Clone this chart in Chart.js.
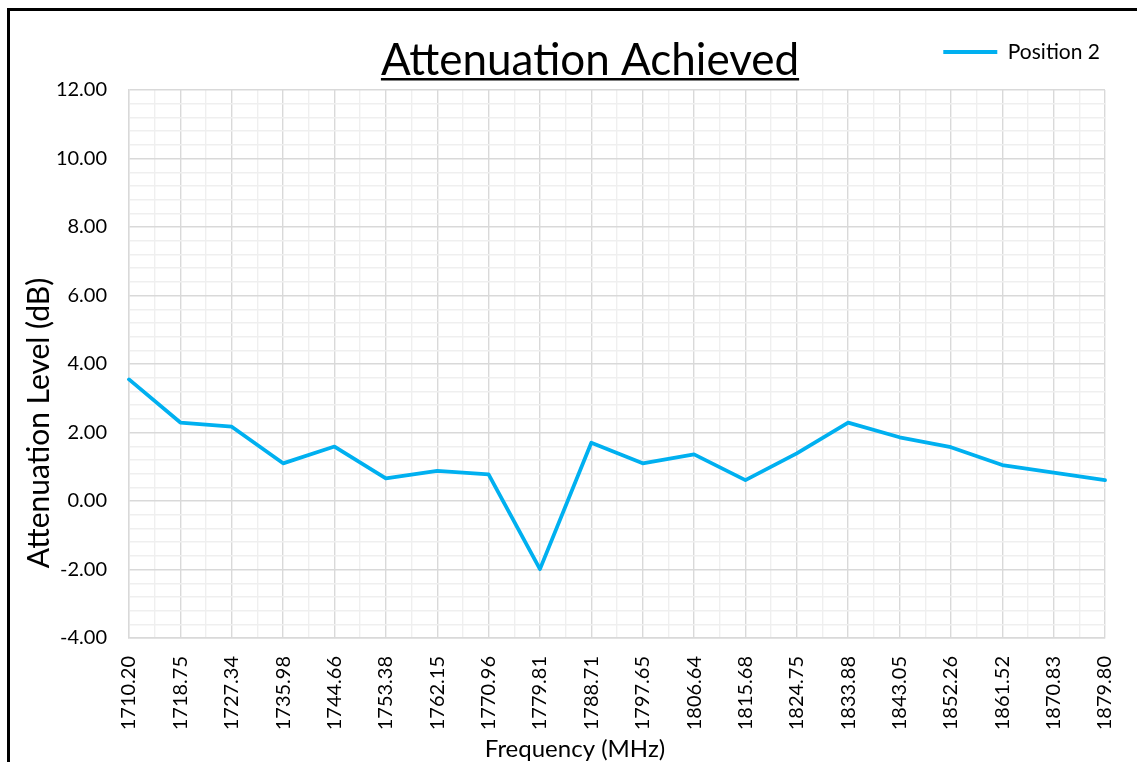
<!DOCTYPE html>
<html>
<head>
<meta charset="utf-8">
<script src="https://cdn.jsdelivr.net/npm/chart.js@4/dist/chart.umd.min.js"></script>
<style>
  html, body { margin: 0; padding: 0; background: #fff; overflow: hidden; }
  #wrap { position: relative; width: 1137px; height: 762px; }
  #frame { position: absolute; left: 7px; top: 8px; width: 1200px; height: 800px;
           border-left: 3px solid #000; border-top: 3px solid #000; pointer-events: none; }
</style>
</head>
<body>
<div id="wrap">
  <canvas id="c" width="1137" height="762"></canvas>
  <div id="frame"></div>
</div>
<script>
// data
var frequencies = ['1710.20', '1718.75', '1727.34', '1735.98', '1744.66', '1753.38', '1762.15',
  '1770.96', '1779.81', '1788.71', '1797.65', '1806.64', '1815.68', '1824.75', '1833.88',
  '1843.05', '1852.26', '1861.52', '1870.83', '1879.80'];
var position2 = [3.55, 2.29, 2.17, 1.10, 1.59, 0.66, 0.88, 0.78, -1.99, 1.70,
  1.10, 1.36, 0.61, 1.39, 2.29, 1.86, 1.57, 1.05, 0.83, 0.61];
var yMin = -4, yMax = 12, yMajorStep = 2, yMinorStep = 0.4;

var chartTitle = 'Attenuation Achieved';
var seriesName = 'Position 2';
var xTitle = 'Frequency (MHz)';
var yTitle = 'Attenuation Level (dB)';

var lineBlue = '#00b0f0';
var gridMajor = '#d9d9d9';
var gridMinor = '#efefef';

function isMajor(v) {
  return Math.abs(Math.round(v / yMajorStep) * yMajorStep - v) < 1e-6;
}

// chart title (underlined) and the two axis titles, placed like Excel does
var titles = {
  id: 'titles',
  afterDraw: function(chart) {
    var ctx = chart.ctx;
    ctx.save();
    ctx.fillStyle = '#000';
    ctx.textAlign = 'center';

    ctx.font = '44px Lato';
    ctx.textBaseline = 'alphabetic';
    ctx.fillText(chartTitle, 590, 75);
    var w = ctx.measureText(chartTitle).width;
    ctx.fillRect(590 - w / 2, 78, w, 2.5);

    ctx.textBaseline = 'middle';
    ctx.font = '24px Lato';
    ctx.fillText(xTitle, 575, 749);

    ctx.translate(39, 423);
    ctx.rotate(-Math.PI / 2);
    ctx.font = '30px Lato';
    ctx.fillText(yTitle, 0, 0);
    ctx.restore();
  }
};

// move the legend up so it sits beside the title
var legendRow = {
  id: 'legendRow',
  afterLayout: function(chart) {
    var lg = chart.legend;
    if (!lg) return;
    lg.top -= 17.5;
    lg.bottom -= 17.5;
  }
};

new Chart(document.getElementById('c'), {
  type: 'line',
  data: {
    labels: frequencies,
    datasets: [{
      label: seriesName,
      data: position2,
      xAxisID: 'x',
      borderColor: lineBlue,
      backgroundColor: lineBlue,
      borderWidth: 3.8,
      borderCapStyle: 'round',
      borderJoinStyle: 'round',
      pointRadius: 0,
      tension: 0,
      fill: false
    }]
  },
  options: {
    responsive: false,
    animation: false,
    layout: { padding: { top: 54, right: 32, left: 0, bottom: 0 } },
    plugins: {
      title: { display: false },
      tooltip: { enabled: false },
      legend: {
        display: true,
        position: 'top',
        align: 'end',
        labels: {
          usePointStyle: true,
          pointStyle: 'line',
          pointStyleWidth: 54,
          padding: 5,
          color: '#000',
          font: { family: 'Lato', size: 21 }
        }
      }
    },
    scales: {
      x: {
        type: 'category',
        offset: false,
        grid: { color: gridMajor, lineWidth: 1.4, drawTicks: false },
        border: { color: gridMajor, width: 1.4 },
        ticks: {
          minRotation: 90, maxRotation: 90, autoSkip: false, padding: 18,
          color: '#000', font: { family: 'Lato', size: 20 }
        },
        afterFit: function(s) {
          s.height = 124;
          s.paddingLeft = 0;
          s.paddingRight = 0;
        }
      },
      xMinor: {
        type: 'linear',
        position: 'bottom',
        z: -1,
        min: 0,
        max: frequencies.length - 1,
        ticks: { display: false, stepSize: 0.5 },
        grid: {
          drawTicks: false,
          lineWidth: 1.4,
          color: function(c) {
            return c.tick && Math.abs(c.tick.value % 1) > 0.01 ? gridMinor : 'rgba(0,0,0,0)';
          }
        },
        border: { display: false },
        afterFit: function(s) {
          s.height = 0;
          s.paddingLeft = 0;
          s.paddingRight = 0;
        }
      },
      y: {
        min: yMin,
        max: yMax,
        grid: {
          drawTicks: false,
          lineWidth: 1.4,
          color: function(c) { return isMajor(c.tick.value) ? gridMajor : gridMinor; }
        },
        border: { color: gridMajor, width: 1.4 },
        ticks: {
          stepSize: yMinorStep,
          autoSkip: false,
          padding: 22,
          color: '#000',
          font: { family: 'Lato', size: 20 },
          callback: function(v) { return isMajor(v) ? Number(v).toFixed(2) : ''; }
        },
        afterFit: function(s) { s.width = 129; }
      }
    }
  },
  plugins: [titles, legendRow]
});
</script>
</body>
</html>
